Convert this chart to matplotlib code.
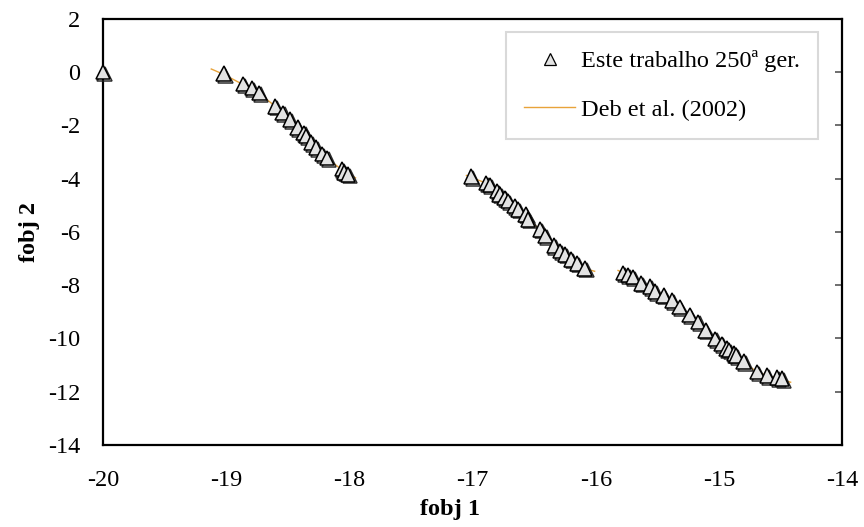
import matplotlib
matplotlib.use("Agg")
import matplotlib.pyplot as plt
import matplotlib.patheffects as pe
from matplotlib.lines import Line2D

plt.rcParams["font.family"] = ["Liberation Serif", "DejaVu Serif"]
plt.rcParams["axes.unicode_minus"] = False

# Pareto front found in this work (250th generation)
f1_ga = [-20.00,
         -19.02, -18.86, -18.79, -18.73, -18.60, -18.54, -18.48, -18.42, -18.37,
         -18.35, -18.31, -18.27, -18.22, -18.18, -18.06, -18.04, -18.01,
         -17.01, -16.89, -16.86, -16.80, -16.78, -16.74, -16.71, -16.66, -16.63,
         -16.57, -16.55, -16.45, -16.41, -16.34, -16.29, -16.25, -16.20, -16.15,
         -16.09,
         -15.78, -15.74, -15.70, -15.63, -15.56, -15.52, -15.45, -15.38, -15.32,
         -15.24, -15.17, -15.11, -15.03, -14.98, -14.94, -14.92, -14.88, -14.86,
         -14.80, -14.69, -14.61, -14.53, -14.49]
f2_ga = [0.00,
         -0.05, -0.45, -0.60, -0.78, -1.28, -1.53, -1.78, -2.08, -2.28,
         -2.40, -2.64, -2.83, -3.08, -3.22, -3.64, -3.76, -3.84,
         -3.93, -4.17, -4.24, -4.47, -4.59, -4.72, -4.84, -5.03, -5.15,
         -5.34, -5.53, -5.90, -6.15, -6.52, -6.72, -6.84, -7.03, -7.18,
         -7.37,
         -7.55, -7.62, -7.70, -7.93, -8.06, -8.25, -8.38, -8.58, -8.83,
         -9.13, -9.38, -9.70, -10.02, -10.21, -10.38, -10.44, -10.58, -10.65,
         -10.88, -11.27, -11.40, -11.47, -11.52]

# Reference front, Deb et al. (2002), three disconnected pieces
deb_f1 = [[-19.12, -19.02, -18.86, -18.73, -18.60, -18.48, -18.37, -18.27, -18.18, -18.06, -17.95],
          [-17.05, -16.89, -16.78, -16.66, -16.55, -16.45, -16.34, -16.20, -16.09, -16.01],
          [-15.82, -15.70, -15.56, -15.45, -15.32, -15.17, -15.03, -14.88, -14.69, -14.53, -14.42]]
deb_f2 = [[0.12, -0.08, -0.47, -0.79, -1.29, -1.79, -2.29, -2.84, -3.23, -3.67, -3.97],
          [-3.88, -4.17, -4.60, -5.04, -5.54, -5.91, -6.53, -7.04, -7.38, -7.48],
          [-7.45, -7.70, -8.07, -8.39, -8.84, -9.39, -10.03, -10.59, -11.28, -11.49, -11.65]]

xticks = [-20, -19, -18, -17, -16, -15, -14]
yticks = [2, 0, -2, -4, -6, -8, -10, -12, -14]

orange = "#E8A33A"
fs = 17.5

fig = plt.figure(figsize=(8.64, 5.27), dpi=100)
ax = fig.add_axes([0.119, 0.156, 0.856, 0.808])

for xs, ys in zip(deb_f1, deb_f2):
    ax.plot(xs, ys, color=orange, lw=1.0, zorder=2)

ax.plot(f1_ga, f2_ga, ls="none", marker="^", ms=10.5, mfc="#e3e3e3",
        mec="black", mew=1.1, zorder=3, clip_on=False,
        path_effects=[pe.SimpleLineShadow(offset=(1.3, -1.3), shadow_color="#222222", alpha=0.95),
                      pe.Normal()])

ax.set_xlim(-20, -14)
ax.set_ylim(-14, 2)
ax.set_xticks(xticks)
ax.set_yticks(yticks)
ax.tick_params(axis="x", length=0, pad=18, labelsize=fs)
ax.tick_params(axis="y", left=False, right=True, direction="in", length=5,
               color="#555555", width=1.2, pad=16, labelsize=fs)
for sp in ax.spines.values():
    sp.set_linewidth(1.6)
    sp.set_color("black")

ax.set_xlabel("fobj 1", fontsize=fs, fontweight="bold")
ax.set_ylabel("fobj 2", fontsize=fs, fontweight="bold", labelpad=6)
ax.xaxis.set_label_coords(0.47, -0.128)

handles = [Line2D([], [], ls="none", marker="^", ms=8, mfc="#e3e3e3", mec="black", mew=0.9),
           Line2D([], [], color=orange, lw=1.0)]
leg = ax.legend(handles, ["Este trabalho 250ª ger.", "Deb et al. (2002)"],
                loc="upper right", bbox_to_anchor=(0.9675, 0.9695), fontsize=fs,
                frameon=True, fancybox=False, framealpha=1, edgecolor="#d9d9d9",
                borderpad=0.75, labelspacing=1.1, handlelength=2.1, handletextpad=0.25,
                borderaxespad=0)
leg.get_frame().set_linewidth(1.5)

fig.savefig("out.png", dpi=100, facecolor="white")
